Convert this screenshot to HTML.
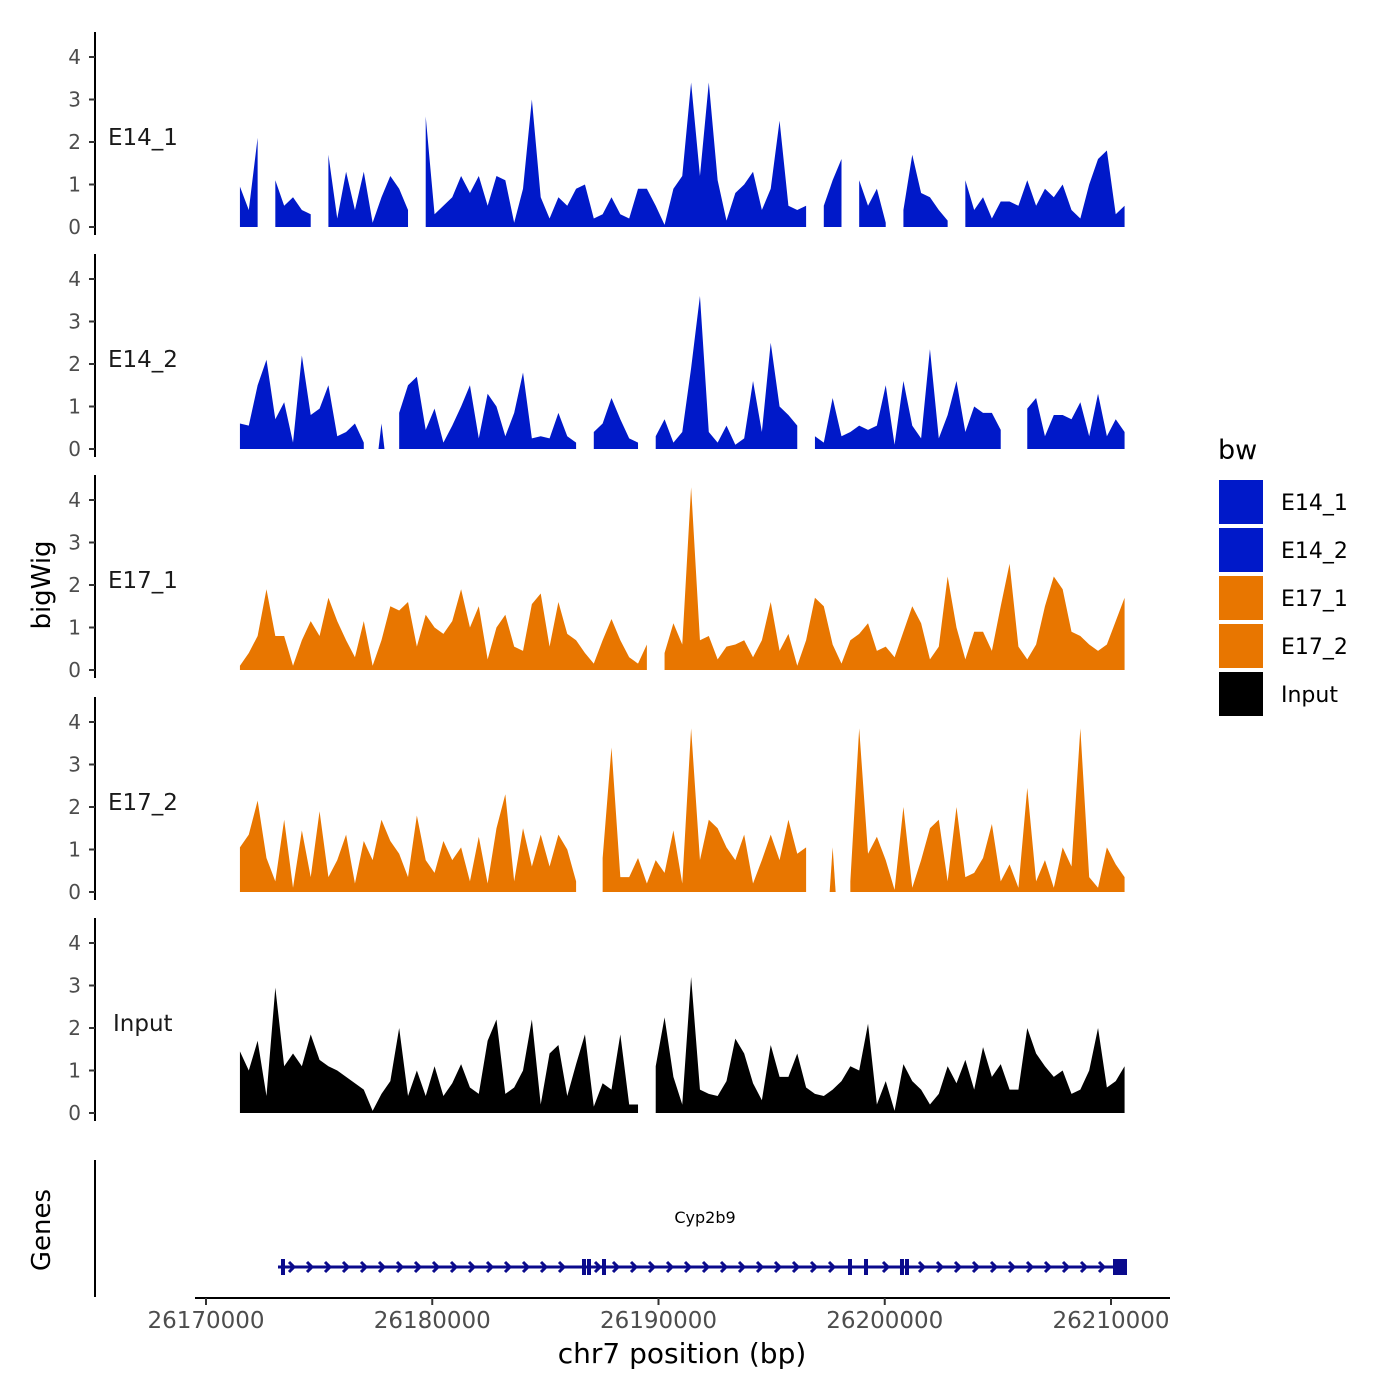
<!DOCTYPE html>
<html><head><meta charset="utf-8"><style>
body{margin:0;background:#fff;}
svg{display:block;font-family:"DejaVu Sans","Liberation Sans",sans-serif;}
</style></head><body>
<svg id="chart" width="1400" height="1400" viewBox="0 0 1400 1400">
<rect width="1400" height="1400" fill="#fff"/>
<g id="tracks"></g>
<text x="42" y="585" font-size="26" text-anchor="middle" transform="rotate(-90 42 585)" dominant-baseline="central">bigWig</text>
<text x="42" y="1230" font-size="26" text-anchor="middle" transform="rotate(-90 42 1230)" dominant-baseline="central">Genes</text>
<line x1="95" y1="1160" x2="95" y2="1297" stroke="#000" stroke-width="2"/>
<g id="gene"></g>
<text x="705" y="1223" font-size="16" text-anchor="middle">Cyp2b9</text>
<line x1="195" y1="1298" x2="1170" y2="1298" stroke="#000" stroke-width="2"/>
<g id="xaxis"></g>
<text x="682" y="1363" font-size="28" text-anchor="middle">chr7 position (bp)</text>
<g>
<text x="1218" y="459" font-size="27">bw</text>
<rect x="1219" y="480" width="44" height="44" fill="#0019C9"/>
<rect x="1219" y="528" width="44" height="44" fill="#0019C9"/>
<rect x="1219" y="576" width="44" height="44" fill="#E87600"/>
<rect x="1219" y="624" width="44" height="44" fill="#E87600"/>
<rect x="1219" y="672" width="44" height="44" fill="#000"/>
<text x="1281" y="510" font-size="22">E14_1</text>
<text x="1281" y="558" font-size="22">E14_2</text>
<text x="1281" y="606" font-size="22">E17_1</text>
<text x="1281" y="654" font-size="22">E17_2</text>
<text x="1281" y="702" font-size="22">Input</text>
</g>
</svg>
<script>
const startBp = 26171500;
const stepBp = 391;
const trackNames = ["E14_1","E14_2","E17_1","E17_2","Input"];
const trackColors = ["#0019C9","#0019C9","#E87600","#E87600","#000000"];
const yTicks = [0,1,2,3,4];
const xTicks = [26170000,26180000,26190000,26200000,26210000];
const xTickLabels = ["26170000","26180000","26190000","26200000","26210000"];
const e14_1 = [0.95,0.4,2.1,null,1.1,0.5,0.7,0.4,0.3,null,1.7,0.2,1.3,0.4,1.3,0.1,0.7,1.2,0.9,0.4,null,2.6,0.3,0.5,0.7,1.2,0.8,1.2,0.5,1.2,1.1,0.1,0.9,3.0,0.7,0.2,0.7,0.5,0.9,1.0,0.2,0.3,0.7,0.3,0.2,0.9,0.9,0.5,0.05,0.9,1.2,3.4,1.2,3.4,1.1,0.15,0.8,1.0,1.3,0.4,0.9,2.5,0.5,0.4,0.5,null,0.5,1.1,1.6,null,1.1,0.5,0.9,0.1,null,0.4,1.7,0.8,0.7,0.4,0.15,null,1.1,0.4,0.7,0.2,0.6,0.6,0.5,1.1,0.5,0.9,0.7,1.0,0.4,0.2,1.0,1.6,1.8,0.3,0.5];
const e14_2 = [0.6,0.55,1.5,2.1,0.7,1.1,0.15,2.2,0.8,0.95,1.5,0.3,0.4,0.6,0.15,null,0.6,null,0.85,1.5,1.7,0.45,0.95,0.15,0.55,1.0,1.5,0.25,1.3,1.0,0.3,0.85,1.8,0.25,0.3,0.25,0.85,0.3,0.15,null,0.4,0.6,1.2,0.7,0.25,0.15,null,0.3,0.7,0.15,0.4,1.9,3.6,0.4,0.15,0.55,0.1,0.25,1.6,0.4,2.5,1.0,0.8,0.55,null,0.3,0.15,1.2,0.3,0.4,0.55,0.45,0.55,1.5,0.1,1.6,0.55,0.25,2.35,0.25,0.8,1.6,0.4,1.0,0.85,0.85,0.45,null,null,0.95,1.2,0.3,0.8,0.8,0.7,1.1,0.3,1.3,0.3,0.7,0.4];
const e17_1 = [0.1,0.4,0.8,1.9,0.8,0.8,0.1,0.7,1.15,0.8,1.7,1.15,0.7,0.3,1.15,0.1,0.7,1.5,1.4,1.6,0.55,1.3,1.0,0.85,1.15,1.9,1.0,1.5,0.25,1.0,1.3,0.55,0.45,1.55,1.8,0.55,1.6,0.85,0.7,0.4,0.15,0.7,1.2,0.7,0.3,0.15,0.6,null,0.4,1.1,0.6,4.3,0.7,0.8,0.25,0.55,0.6,0.7,0.3,0.7,1.6,0.45,0.85,0.1,0.7,1.7,1.5,0.6,0.15,0.7,0.85,1.1,0.45,0.55,0.3,0.9,1.5,1.1,0.25,0.55,2.2,1.0,0.25,0.9,0.9,0.45,1.5,2.5,0.55,0.25,0.6,1.5,2.2,1.9,0.9,0.8,0.6,0.45,0.6,1.15,1.7];
const e17_2 = [1.05,1.35,2.15,0.8,0.25,1.7,0.1,1.45,0.35,1.9,0.35,0.75,1.35,0.2,1.2,0.75,1.7,1.2,0.9,0.35,1.8,0.75,0.45,1.2,0.75,1.05,0.25,1.3,0.2,1.5,2.3,0.25,1.5,0.6,1.35,0.6,1.35,1.0,0.25,null,null,0.8,3.4,0.35,0.35,0.8,0.2,0.75,0.45,1.45,0.2,3.85,0.75,1.7,1.5,1.05,0.75,1.35,0.2,0.75,1.35,0.75,1.7,0.9,1.05,null,null,1.05,null,0.25,3.85,0.9,1.3,0.75,0.05,2.0,0.1,0.75,1.5,1.7,0.25,2.0,0.35,0.45,0.8,1.6,0.25,0.65,0.1,2.45,0.25,0.75,0.1,1.05,0.6,3.85,0.35,0.1,1.05,0.65,0.35];
const input = [1.45,1.0,1.7,0.4,2.95,1.1,1.4,1.1,1.85,1.25,1.1,1.0,0.85,0.7,0.55,0.05,0.45,0.75,2.0,0.4,1.0,0.4,1.1,0.4,0.7,1.15,0.6,0.45,1.7,2.2,0.45,0.6,1.0,2.2,0.2,1.4,1.6,0.4,1.15,1.85,0.15,0.7,0.55,1.85,0.2,0.2,null,1.1,2.25,0.85,0.2,3.2,0.55,0.45,0.4,0.75,1.75,1.4,0.7,0.3,1.6,0.85,0.85,1.4,0.6,0.45,0.4,0.55,0.75,1.1,1.0,2.1,0.2,0.75,0.05,1.15,0.75,0.55,0.2,0.45,1.1,0.7,1.25,0.55,1.55,0.85,1.15,0.55,0.55,2.0,1.4,1.1,0.85,1.0,0.45,0.55,1.0,2.0,0.6,0.75,1.1];
const exonBp = [26173403,26186707,26186928,26187591,26198464,26199171,26200762,26200983];
const geneStartBp = 26173182;
const geneEndBp = 26210398;

const NS = "http://www.w3.org/2000/svg";
const series = [e14_1,e14_2,e17_1,e17_2,input];
const baselines = [227,449,670,892,1113];
const unitPx = 42.5;
function xScale(bp){ return 206 + (bp - 26170000) * 0.022625; }
function yScale(v, t){ return baselines[t] - v * unitPx; }
function mk(tag, attrs, parent){ const e=document.createElementNS(NS,tag); for(const k in attrs) e.setAttribute(k,attrs[k]); parent.appendChild(e); return e; }

const tracksG = document.getElementById('tracks');
series.forEach((vals, t) => {
  const g = mk('g', {}, tracksG);
  
  
  const top = baselines[t] - 195, bot = baselines[t] + 8;
  const ax = mk('line', {x1:95,y1:top,x2:95,y2:bot,stroke:'#000','stroke-width':2}, g);
  
  
  yTicks.forEach(v => {
    const y = yScale(v, t);
    const tk = mk('line', {x1:89,y1:y,x2:95,y2:y,stroke:'#333','stroke-width':2}, g);
    
    
    const tl = mk('text', {x:81,y:y+7,'font-size':20,'text-anchor':'end',fill:'#4d4d4d'}, g);
    tl.textContent = String(v);
    
    
  });
  const lab = mk('text', {x:108,y:yScale(2.05,t)+5,'font-size':23,fill:'#1a1a1a'}, g);
  lab.textContent = trackNames[t];
  if (trackNames[t] === 'Input') lab.setAttribute('x', 113);
  
  
  let seg = [];
  const segs = [];
  vals.forEach((v, i) => {
    if (v === null) { if (seg.length) segs.push(seg); seg = []; }
    else seg.push([xScale(startBp + i*stepBp), yScale(v, t)]);
  });
  if (seg.length) segs.push(seg);
  segs.forEach(s => {
    const z = baselines[t];
    let d;
    if (s.length === 1) { const p=s[0]; d = `M${p[0]-3},${z}L${p[0]},${p[1]}L${p[0]+3},${z}Z`; }
    else d = `M${s[0][0]},${z}` + s.map(p => `L${p[0]},${p[1]}`).join('') + `L${s[s.length-1][0]},${z}Z`;
    const a = mk('path', {d:d, fill:trackColors[t]}, g);
    
    
  });
});

const xa = document.getElementById('xaxis');
xTicks.forEach((bp, i) => {
  const x = xScale(bp);
  const tk = mk('line', {x1:x,y1:1298,x2:x,y2:1305,stroke:'#333','stroke-width':2}, xa);
  
  
  const tl = mk('text', {x:x,y:1328,'font-size':23,'text-anchor':'middle',fill:'#4d4d4d'}, xa);
  tl.textContent = xTickLabels[i];
  
  
});

const gg = document.getElementById('gene');
const gy = 1267, gc = '#0A0A8C';
const x0 = xScale(geneStartBp), x1 = xScale(geneEndBp);
const gl = mk('line', {x1:x0,y1:gy,x2:x1,y2:gy,stroke:gc,'stroke-width':3}, gg);


const exX = exonBp.map(xScale);
for (let x = x0 + 14; x < x1 - 8; x += 18) {
  if (exX.some(e => Math.abs(e - x) < 5)) continue;
  const c = mk('polyline', {points:`${x-3},${gy-5} ${x+2},${gy} ${x-3},${gy+5}`, fill:'none', stroke:gc, 'stroke-width':3}, gg);
  
  
}
exX.forEach(x => {
  const r = mk('rect', {x:x-2,y:gy-8,width:4,height:16,fill:gc}, gg);
  
  
});
const lastEx = mk('rect', {x:x1-7,y:gy-8,width:14,height:16,fill:gc}, gg);


</script>
</body></html>
